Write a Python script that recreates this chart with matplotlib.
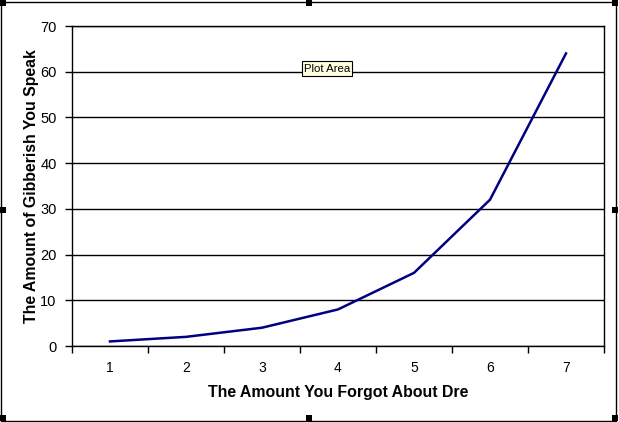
import matplotlib.pyplot as plt
from matplotlib.patches import Rectangle

# data
categories = ["1", "2", "3", "4", "5", "6", "7"]
gibberish = [1, 2, 4, 8, 16, 32, 64]
y_ticks = [0, 10, 20, 30, 40, 50, 60, 70]

W, H = 619, 422
fig = plt.figure(figsize=(W / 100, H / 100), dpi=100)
plt.rcParams['font.family'] = ['Liberation Sans', 'DejaVu Sans']

# plot area in pixels: left 72, right 604, top 26, bottom 346
ax = fig.add_axes([72 / W, 1 - 346 / H, (604 - 72) / W, (346 - 26) / H])

x = range(len(categories))
ax.plot(x, gibberish, color="#000080", linewidth=1.8)

ax.set_xlim(-0.5, len(categories) - 0.5)
ax.set_ylim(0, 70)
ax.set_yticks(y_ticks)
ax.yaxis.grid(True, color="black", linewidth=1)
ax.set_axisbelow(True)

# category labels centred, ticks on the boundaries
ax.set_xticks([i - 0.5 for i in range(len(categories) + 1)])
ax.set_xticklabels([])
ax.set_xticks(list(x), minor=True)
ax.set_xticklabels(categories, minor=True, fontsize=10)
ax.tick_params(axis="x", which="major", direction="out", length=5, width=1)
ax.tick_params(axis="x", which="minor", length=0, pad=11)
ax.tick_params(axis="y", direction="out", length=5, width=1, labelsize=10.5, pad=6)

for s in ax.spines.values():
    s.set_linewidth(1)
    s.set_color("black")

ax.set_xlabel("The Amount You Forgot About Dre", fontsize=11.4, fontweight="bold", labelpad=7)
ax.set_ylabel("The Amount of Gibberish You Speak", fontsize=11.4, fontweight="bold", labelpad=1)

# "Plot Area" tooltip
fig.text(327 / W, 1 - 68.5 / H, "Plot Area", fontsize=8.2, ha="center", va="center",
         bbox=dict(boxstyle="square,pad=0.2", facecolor="#FFFFE1", edgecolor="black", linewidth=0.8))

# chart border and selection handles
fig.patches.append(Rectangle((1 / W, 1 / H), (W - 4) / W, (H - 3) / H, transform=fig.transFigure,
                             fill=False, edgecolor="black", linewidth=1))
for hx, hy in [(0, 0), (306, 0), (612, 0), (0, 207), (612, 207), (0, 415), (306, 415), (612, 415)]:
    fig.patches.append(Rectangle((hx / W, 1 - (hy + 6) / H), 6 / W, 6 / H, transform=fig.transFigure,
                                 facecolor="black", edgecolor="none"))

fig.savefig("out.png", dpi=100)
